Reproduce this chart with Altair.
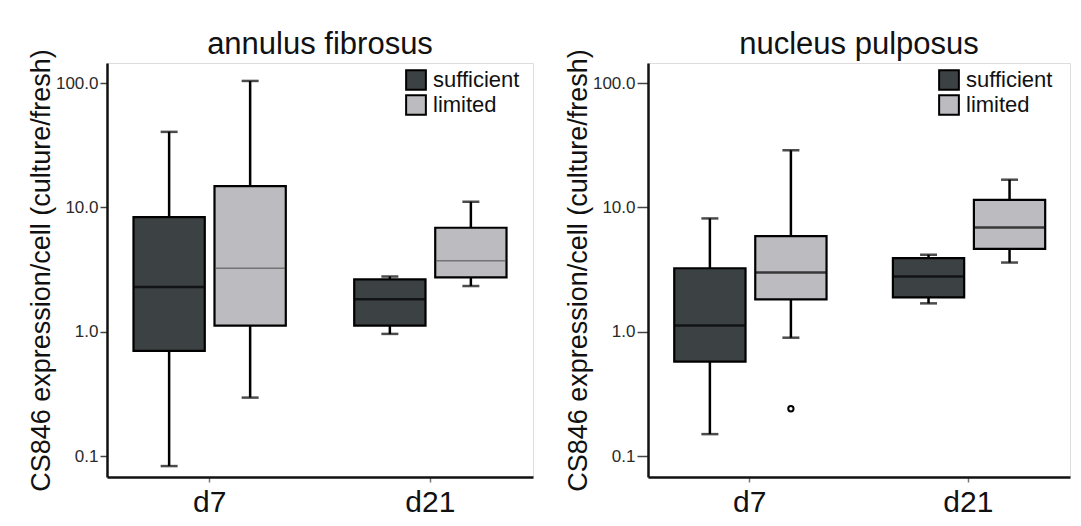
import altair as alt
import pandas as pd

# ---------------- data ----------------
days = ["d7", "d7", "d21", "d21"]
groups = ["sufficient", "limited", "sufficient", "limited"]

# annulus fibrosus
af_lo = [0.083, 0.295, 0.96, 2.33]
af_q1 = [0.70, 1.12, 1.12, 2.74]
af_med = [2.29, 3.24, 1.82, 3.72]
af_q3 = [8.35, 14.8, 2.64, 6.86]
af_hi = [40.5, 104.0, 2.78, 11.1]

# nucleus pulposus
np_lo = [0.15, 0.895, 1.69, 3.6]
np_q1 = [0.575, 1.82, 1.89, 4.64]
np_med = [1.12, 3.0, 2.78, 6.9]
np_q3 = [3.24, 5.87, 3.9, 11.5]
np_hi = [8.15, 28.8, 4.16, 16.7]

np_out_day = ["d7"]
np_out_group = ["limited"]
np_out_val = [0.24]

day_order = ["d7", "d21"]
group_order = ["sufficient", "limited"]
group_colors = ["#3c4144", "#bcbcc0"]
y_ticks = [0.1, 1, 10, 100]
y_title = "CS846 expression/cell (culture/fresh)"
FONT = "Liberation Sans"


def make_df(lo, q1, med, q3, hi):
    return pd.DataFrame({"day": days, "group": groups, "lo": lo, "q1": q1,
                         "med": med, "q3": q3, "hi": hi})


def panel(df, out_df, title, width, tick_size, legend_x, thin_limited_median):
    x = alt.X("day:N", sort=day_order, scale=alt.Scale(paddingInner=0.31, paddingOuter=0.12),
              axis=alt.Axis(title=None, labelAngle=0, labelFontSize=30, labelFont=FONT,
                            labelColor="#111", tickSize=5, tickColor="#777", tickWidth=1.5,
                            domainColor="#111", domainWidth=2.5, labelPadding=5))
    xo = alt.XOffset("group:N", sort=group_order, scale=alt.Scale(paddingInner=0.12, paddingOuter=0))
    yscale = alt.Scale(type="log", domain=[0.0678, 145], clamp=True, nice=False)
    yaxis = alt.Axis(values=y_ticks, format=".1f", grid=False, labelFontSize=17, labelFont=FONT,
                     labelColor="#2a2a2a", tickSize=tick_size, tickColor="#444", tickWidth=1.5,
                     domainColor="#111", domainWidth=2.5, labelPadding=2,
                     title=y_title, titleFontSize=27, titleFont=FONT, titleFontWeight="normal",
                     titleColor="#111", titlePadding=0)
    base = alt.Chart(df)
    whisk = base.mark_rule(color="black", strokeWidth=2.5).encode(
        x=x, xOffset=xo, y=alt.Y("lo:Q", scale=yscale, axis=yaxis), y2="hi:Q")
    cap_lo = base.mark_tick(color="black", size=17, thickness=2.5).encode(x=x, xOffset=xo, y="lo:Q")
    cap_hi = base.mark_tick(color="black", size=17, thickness=2.5).encode(x=x, xOffset=xo, y="hi:Q")
    box = base.mark_bar(stroke="black", strokeWidth=2.2).encode(
        x=x, xOffset=xo, y="q1:Q", y2="q3:Q",
        color=alt.Color("group:N", sort=group_order,
                        scale=alt.Scale(domain=group_order, range=group_colors),
                        legend=alt.Legend(title=None, orient="none", legendX=legend_x, legendY=6,
                                          symbolType="square", symbolSize=390,
                                          symbolStrokeColor="black", symbolStrokeWidth=2,
                                          labelFontSize=22, labelFont=FONT, labelColor="#111",
                                          rowPadding=-4, labelOffset=6)))
    if thin_limited_median:
        med_thick = base.transform_filter(alt.datum.group == "sufficient").mark_tick(
            color="black", size=70, thickness=2.5).encode(x=x, xOffset=xo, y="med:Q")
        med_thin = base.transform_filter(alt.datum.group == "limited").mark_tick(
            color="#555", size=70, thickness=1.3).encode(x=x, xOffset=xo, y="med:Q")
        meds = [med_thick, med_thin]
    else:
        meds = [base.mark_tick(color="black", size=70, thickness=2.5).encode(x=x, xOffset=xo, y="med:Q")]
    layers = [whisk, cap_lo, cap_hi, box] + meds
    if out_df is not None:
        pts = alt.Chart(out_df).mark_point(shape="circle", filled=False, size=28, color="black",
                                           strokeWidth=2, opacity=1).encode(x=x, xOffset=xo, y="val:Q")
        layers.append(pts)
    return alt.layer(*layers).properties(
        width=width, height=414,
        title=alt.TitleParams(title, fontSize=31, font=FONT, fontWeight="normal", color="#111",
                              anchor="middle", offset=-36, baseline="alphabetic"))


af = make_df(af_lo, af_q1, af_med, af_q3, af_hi)
npd = make_df(np_lo, np_q1, np_med, np_q3, np_hi)
out = pd.DataFrame({"day": np_out_day, "group": np_out_group, "val": np_out_val})

left = panel(af, None, "annulus fibrosus", 426, 7, 298, True)
right = panel(npd, out, "nucleus pulposus", 422, 11, 290, False)

chart = alt.hconcat(left, right, spacing=29).resolve_scale(color="independent").resolve_legend(
    color="independent").configure_view(stroke="#c8c8c8", strokeWidth=1.5, fill="#fbfbfb").configure(
    font=FONT, background="white", padding={"left": 26, "top": 28, "right": 5, "bottom": 5})

chart.save("out.html", embed_options={"renderer": "svg", "actions": False})
